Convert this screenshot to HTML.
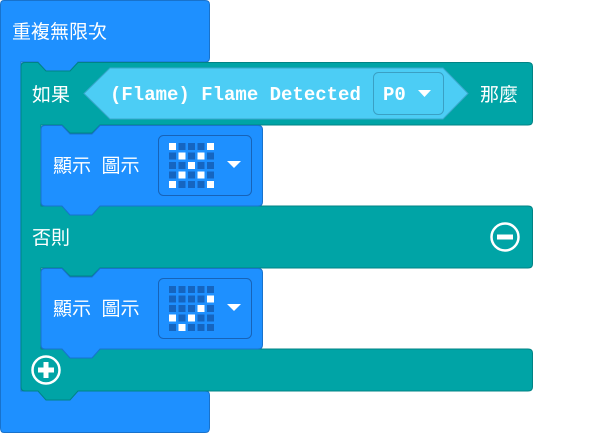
<!DOCTYPE html>
<html><head><meta charset="utf-8"><style>
html,body{margin:0;padding:0;background:#fff;width:600px;height:433px;overflow:hidden}
svg{display:block}
.t{font-family:"Liberation Sans","Noto Sans CJK TC",sans-serif;font-size:19px;fill:#fff}
.m{font-family:"Liberation Mono",monospace;font-size:19px;font-weight:bold;fill:#fff}
</style></head><body>
<svg width="600" height="433" viewBox="0 0 600 433" xmlns="http://www.w3.org/2000/svg">
<!-- outer forever block -->
<path d="M4,0.5 H205 Q209.5,0.5 209.5,4.5 V58 Q209.5,62 205,62 H78 L70,71 H46 L38,62 H21 V391 H205 Q209.5,391 209.5,395 V428 Q209.5,432.5 205,432.5 H4 Q0.5,432.5 0.5,428 V4.5 Q0.5,0.5 4,0.5 Z" fill="#1E90FF" stroke="#1872CC" stroke-width="1"/>
<text class="t" x="12" y="38">重複無限次</text>
<!-- teal if block -->
<path d="M25,62.5 H38 L46,71 H70 L78,62.5 H528 Q532.5,62.5 532.5,66.5 V121 Q532.5,125 528,125 H100 L92,133 H70 L62,125 H41 V206 H528 Q532.5,206 532.5,210 V264 Q532.5,268 528,268 H100 L92,276 H70 L62,268 H41 V349 H528 Q532.5,349 532.5,353 V387 Q532.5,391 528,391 H78 L70,400 H46 L38,391 H25 Q21,391 21,387 V66.5 Q21,62.5 25,62.5 Z" fill="#00A4A6" stroke="#008385" stroke-width="1"/>
<path d="M38.5,62 L46,70 H70 L77.5,62 Z" fill="#1E90FF"/>
<text class="t" x="32" y="101">如果</text>
<text class="t" x="480" y="101">那麼</text>
<text class="t" x="32" y="244">否則</text>
<!-- condition hexagon -->
<path d="M110,68 H443 L468,93.5 L443,119 H110 L84,93.5 Z" fill="#4CCDF5" stroke="#3AA8CC" stroke-width="1"/>
<text class="m" x="110" y="100">(Flame) Flame Detected</text>
<rect x="373.5" y="72.5" width="70" height="42" rx="5" fill="#4CCDF5" stroke="#3AA0C4"/>
<text class="m" x="383" y="100">P0</text>
<path d="M418,90 H431 L424.5,97 Z" fill="#fff"/>
<!-- minus / plus -->
<circle cx="505" cy="237" r="13.5" fill="none" stroke="#fff" stroke-width="2.5"/>
<rect x="497" y="234.5" width="16" height="5" fill="#fff"/>
<circle cx="46" cy="370" r="13.5" fill="none" stroke="#fff" stroke-width="2.5"/>
<rect x="38" y="367.5" width="16" height="5" fill="#fff"/>
<rect x="43.5" y="362" width="5" height="16" fill="#fff"/>
<!-- statement 1 -->
<path d="M45,125.5 H62 L70,134 H92 L100,125.5 H258 Q262.5,125.5 262.5,129.5 V202 Q262.5,206 258,206 H100 L92,215 H70 L62,206 H45 Q41,206 41,202 V129.5 Q41,125.5 45,125.5 Z" fill="#1E90FF" stroke="#1872CC"/>
<text class="t" x="53" y="172" xml:space="preserve">顯示  圖示</text>
<rect x="158.5" y="135.5" width="93" height="60" rx="5" fill="#1E90FF" stroke="#1763B8"/>
<path d="M227,161 H241 L234,168 Z" fill="#fff"/>
<!-- statement 2 -->
<path d="M45,268.5 H62 L70,277 H92 L100,268.5 H258 Q262.5,268.5 262.5,272.5 V345 Q262.5,349 258,349 H100 L92,358 H70 L62,349 H45 Q41,349 41,345 V272.5 Q41,268.5 45,268.5 Z" fill="#1E90FF" stroke="#1872CC"/>
<text class="t" x="53" y="315" xml:space="preserve">顯示  圖示</text>
<rect x="158.5" y="278.5" width="93" height="60" rx="5" fill="#1E90FF" stroke="#1763B8"/>
<path d="M227,304 H241 L234,311 Z" fill="#fff"/>
<!-- LED grid 1 -->
<g>
<rect x="169" y="143" width="7" height="7" fill="#fff"/><rect x="178.5" y="143" width="7" height="7" fill="#1565C0"/><rect x="188" y="143" width="7" height="7" fill="#1565C0"/><rect x="197.5" y="143" width="7" height="7" fill="#1565C0"/><rect x="207" y="143" width="7" height="7" fill="#fff"/>
<rect x="169" y="152.5" width="7" height="7" fill="#1565C0"/><rect x="178.5" y="152.5" width="7" height="7" fill="#fff"/><rect x="188" y="152.5" width="7" height="7" fill="#1565C0"/><rect x="197.5" y="152.5" width="7" height="7" fill="#fff"/><rect x="207" y="152.5" width="7" height="7" fill="#1565C0"/>
<rect x="169" y="162" width="7" height="7" fill="#1565C0"/><rect x="178.5" y="162" width="7" height="7" fill="#1565C0"/><rect x="188" y="162" width="7" height="7" fill="#fff"/><rect x="197.5" y="162" width="7" height="7" fill="#1565C0"/><rect x="207" y="162" width="7" height="7" fill="#1565C0"/>
<rect x="169" y="171.5" width="7" height="7" fill="#1565C0"/><rect x="178.5" y="171.5" width="7" height="7" fill="#fff"/><rect x="188" y="171.5" width="7" height="7" fill="#1565C0"/><rect x="197.5" y="171.5" width="7" height="7" fill="#fff"/><rect x="207" y="171.5" width="7" height="7" fill="#1565C0"/>
<rect x="169" y="181" width="7" height="7" fill="#fff"/><rect x="178.5" y="181" width="7" height="7" fill="#1565C0"/><rect x="188" y="181" width="7" height="7" fill="#1565C0"/><rect x="197.5" y="181" width="7" height="7" fill="#1565C0"/><rect x="207" y="181" width="7" height="7" fill="#fff"/>
</g>
<!-- LED grid 2 -->
<g>
<rect x="169" y="286" width="7" height="7" fill="#1565C0"/><rect x="178.5" y="286" width="7" height="7" fill="#1565C0"/><rect x="188" y="286" width="7" height="7" fill="#1565C0"/><rect x="197.5" y="286" width="7" height="7" fill="#1565C0"/><rect x="207" y="286" width="7" height="7" fill="#1565C0"/>
<rect x="169" y="295.5" width="7" height="7" fill="#1565C0"/><rect x="178.5" y="295.5" width="7" height="7" fill="#1565C0"/><rect x="188" y="295.5" width="7" height="7" fill="#1565C0"/><rect x="197.5" y="295.5" width="7" height="7" fill="#1565C0"/><rect x="207" y="295.5" width="7" height="7" fill="#fff"/>
<rect x="169" y="305" width="7" height="7" fill="#1565C0"/><rect x="178.5" y="305" width="7" height="7" fill="#1565C0"/><rect x="188" y="305" width="7" height="7" fill="#1565C0"/><rect x="197.5" y="305" width="7" height="7" fill="#fff"/><rect x="207" y="305" width="7" height="7" fill="#1565C0"/>
<rect x="169" y="314.5" width="7" height="7" fill="#fff"/><rect x="178.5" y="314.5" width="7" height="7" fill="#1565C0"/><rect x="188" y="314.5" width="7" height="7" fill="#fff"/><rect x="197.5" y="314.5" width="7" height="7" fill="#1565C0"/><rect x="207" y="314.5" width="7" height="7" fill="#1565C0"/>
<rect x="169" y="324" width="7" height="7" fill="#1565C0"/><rect x="178.5" y="324" width="7" height="7" fill="#fff"/><rect x="188" y="324" width="7" height="7" fill="#1565C0"/><rect x="197.5" y="324" width="7" height="7" fill="#1565C0"/><rect x="207" y="324" width="7" height="7" fill="#1565C0"/>
</g>
</svg>
</body></html>
